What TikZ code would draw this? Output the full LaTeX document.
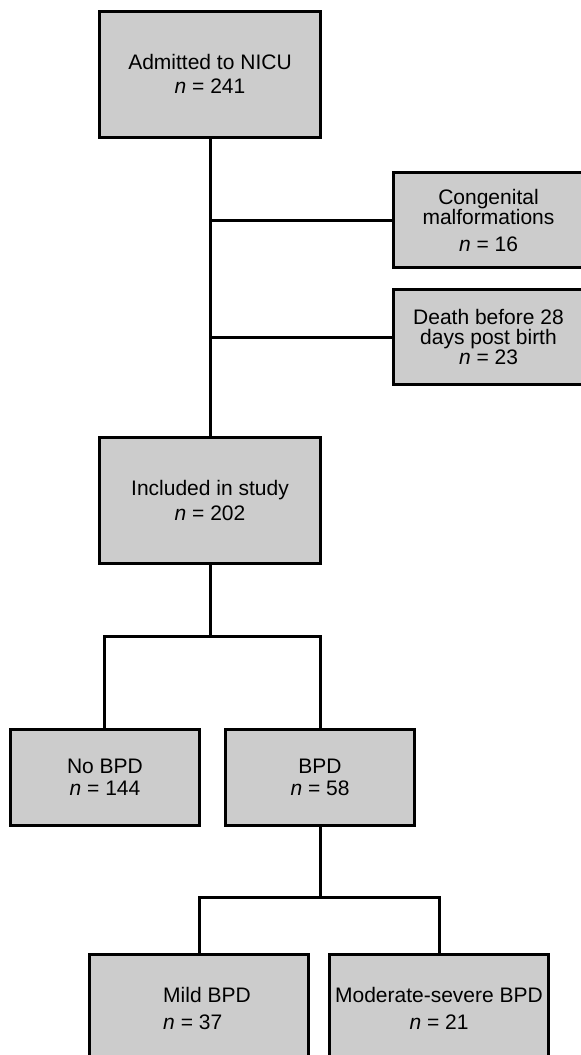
\documentclass[tikz,border=0pt]{standalone}
\usepackage{fontspec}
\setmainfont{Liberation Sans}
\usetikzlibrary{positioning}

\begin{document}
\begin{tikzpicture}
 	\tikzstyle{bigbox}=[rectangle, draw=black, line width=1.5pt, fill=black!20, minimum width=110pt, minimum height=63pt]
 	\tikzstyle{sidebox}=[rectangle, draw=black, line width=1.5pt, fill=black!20, minimum width=101.5pt, minimum height=47.5pt]
 	\tikzstyle{catbox}=[rectangle, draw=black, line width=1.5pt, fill=black!20, minimum width=94.5pt, minimum height=48pt]
 	\tikzstyle{subbox}=[rectangle, draw=black, line width=1.5pt, fill=black!20, minimum width=109.5pt, minimum height=60pt]
 	\tikzstyle{connect}=[line width=1.5pt]
 	\tikzstyle{every label}=[font=\fontsize{10.5pt}{12pt}\selectfont, align=center, text=black]
 	\useasboundingbox (-105pt,37pt) rectangle (185.5pt,-490.5pt);
 	\clip (-105pt,37pt) rectangle (185.5pt,-490.5pt);
 	\node[bigbox] (admit) at (0,0) [label={center:{Admitted to NICU\\\textit{n} = 241}}] { };
 	\node[sidebox] (congen) [right=35pt of admit.east, yshift=-73pt, label={[xshift=-3pt]center:{Congenital\\[-2pt]malformations\\[1.5pt]\textit{n} = 16}}] { };
 	\node[sidebox] (death) [below=9.5pt of congen, label={[xshift=-3pt]center:{Death before 28\\[-2pt]days post birth\\[-2pt]\textit{n} = 23}}] { };
 	\node[bigbox] (incl) [below=148.5pt of admit, label={center:{Included in study\\[0.5pt]\textit{n} = 202}}] { };
 	\node[catbox] (bpd) [below=81.5pt of incl, xshift=55pt, label={center:{BPD\\[-1pt]\textit{n} = 58}}] { };
 	\node[catbox] (nobpd) [left=11.5pt of bpd, label={center:{No BPD\\[-1pt]\textit{n} = 144}}] { };
 	\node[subbox] (mild) [below=63pt of bpd, xshift=-60.5pt, label={[align=left, xshift=4pt, yshift=3pt]center:{Mild BPD\\[1.5pt]\textit{n} = 37}}] { };
 	\node[subbox] (moderate) [right=9pt of mild, label={[yshift=3pt]center:{Moderate-severe BPD\\[1.5pt]\textit{n} = 21}}] { };
 	\coordinate[below=36pt of incl.south] (s1);
 	\coordinate[below=35.5pt of bpd.south] (s2);
 	\draw[connect] (admit) -- (incl);
 	\draw[connect] (admit.south |- congen.west) -- (congen.west);
 	\draw[connect] (admit.south |- death.west) -- (death.west);
 	\draw[connect] (incl) -- (s1);
 	\draw[connect] (nobpd.north) |- (s1) -| (bpd.north);
 	\draw[connect] (bpd) -- (s2);
 	\draw[connect] (mild.north) |- (s2) -| (moderate.north);
\end{tikzpicture}
\end{document}
